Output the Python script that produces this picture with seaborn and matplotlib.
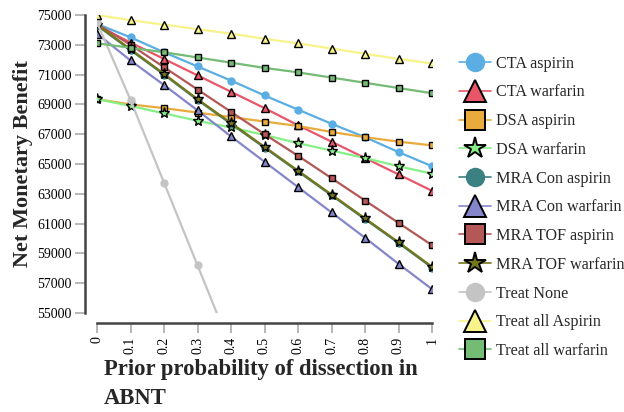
import matplotlib
matplotlib.use("Agg")
import matplotlib.pyplot as plt
import seaborn as sns
import numpy as np
import pandas as pd

prob = [0, 0.1, 0.2, 0.3, 0.4, 0.5, 0.6, 0.7, 0.8, 0.9, 1.0]
xtick_labels = ["0", "0.1", "0.2", "0.3", "0.4", "0.5", "0.6", "0.7", "0.8", "0.9", "1"]
yticks = [55000, 57000, 59000, 61000, 63000, 65000, 67000, 69000, 71000, 73000, 75000]

cta_aspirin = [74400, 73500, 72500, 71550, 70600, 69600, 68650, 67700, 66800, 65800, 64850]
cta_warfarin = [74300, 73150, 72050, 70950, 69850, 68750, 67600, 66500, 65400, 64300, 63200]
dsa_aspirin = [69350, 69000, 68750, 68450, 68150, 67850, 67550, 67150, 66800, 66500, 66250]
dsa_warfarin = [69350, 68900, 68400, 67900, 67450, 66950, 66400, 65900, 65400, 64850, 64350]
mra_con_aspirin = [74300, 72650, 71000, 69300, 67700, 66100, 64500, 62900, 61300, 59700, 58050]
mra_con_warfarin = [73750, 71950, 70300, 68600, 66850, 65150, 63450, 61750, 60050, 58300, 56600]
mra_tof_aspirin = [74400, 73000, 71500, 70000, 68500, 67000, 65550, 64050, 62550, 61050, 59550]
mra_tof_warfarin = [74350, 72700, 71050, 69350, 67750, 66150, 64550, 62950, 61350, 59750, 58100]
treat_none = [74500, 69300, 63750, 58200, 52650, 47100, 41550, 36000, 30450, 24900, 19350]
treat_all_aspirin = [75000, 74650, 74350, 74050, 73750, 73400, 73100, 72750, 72400, 72050, 71750]
treat_all_warfarin = [73100, 72800, 72500, 72150, 71800, 71450, 71150, 70800, 70450, 70100, 69750]

series_names = ["CTA aspirin", "CTA warfarin", "DSA aspirin", "DSA warfarin",
                "MRA Con aspirin", "MRA Con warfarin", "MRA TOF aspirin",
                "MRA TOF warfarin", "Treat None", "Treat all Aspirin", "Treat all warfarin"]
series_values = [cta_aspirin, cta_warfarin, dsa_aspirin, dsa_warfarin, mra_con_aspirin,
                 mra_con_warfarin, mra_tof_aspirin, mra_tof_warfarin, treat_none,
                 treat_all_aspirin, treat_all_warfarin]

colors = {
    "CTA aspirin": "#5aaee3",
    "CTA warfarin": "#e9566a",
    "DSA aspirin": "#e9ab3c",
    "DSA warfarin": "#86ef86",
    "MRA Con aspirin": "#3b8181",
    "MRA Con warfarin": "#8585cc",
    "MRA TOF aspirin": "#b55757",
    "MRA TOF warfarin": "#76761a",
    "Treat None": "#c4c4c4",
    "Treat all Aspirin": "#f7f38a",
    "Treat all warfarin": "#74bb74",
}
markers = {
    "CTA aspirin": "o", "CTA warfarin": "^", "DSA aspirin": "s", "DSA warfarin": "*",
    "MRA Con aspirin": "o", "MRA Con warfarin": "^", "MRA TOF aspirin": "s",
    "MRA TOF warfarin": "*", "Treat None": "o", "Treat all Aspirin": "^",
    "Treat all warfarin": "s",
}
edged = {"CTA warfarin", "DSA aspirin", "DSA warfarin", "MRA Con warfarin",
         "MRA TOF aspirin", "MRA TOF warfarin", "Treat all Aspirin", "Treat all warfarin"}

rows = []
for name, vals in zip(series_names, series_values):
    for p, v in zip(prob, vals):
        rows.append({"prob": p, "nmb": v, "strategy": name})
df = pd.DataFrame(rows)

sns.set_style("ticks")
plt.rcParams["font.family"] = ["Liberation Serif", "DejaVu Serif"]

fig = plt.figure(figsize=(6.24, 4.12), dpi=100)
ax = fig.add_axes([97/624, 1-313/412, 335/624, 298/412])

for name in series_names:
    sub = df[df["strategy"] == name]
    m = markers[name]
    ms = {"o": 6, "^": 6, "s": 4, "*": 8}[m]
    sns.lineplot(data=sub, x="prob", y="nmb", ax=ax, color=colors[name], lw=1.6,
                 marker=m, markersize=ms,
                 markeredgecolor="black" if name in edged else colors[name],
                 markeredgewidth=1.0 if name in edged else 0,
                 label=name, zorder=3)

ax.set_xlim(0, 1)
ax.set_ylim(55000, 75000)
ax.set_xticks(prob)
ax.set_xticklabels(xtick_labels, fontsize=10.5)
ax.set_yticks(yticks)
ax.set_yticklabels([str(t) for t in yticks], fontsize=10.5)

sns.despine(ax=ax, offset={"left": 9, "bottom": 7})
for sp in ["left", "bottom"]:
    ax.spines[sp].set_color("#444444")
    ax.spines[sp].set_linewidth(1.8)
ax.tick_params(axis="both", color="#aaaaaa", length=7, width=1.2, labelcolor="black", pad=2)
ax.tick_params(axis="x", labelrotation=90, pad=3)

ax.set_ylabel("Net Monetary Benefit", fontsize=16, fontweight="bold")
ax.yaxis.set_label_coords(-0.19, 0.5)
ax.set_xlabel("Prior probability of dissection in\nABNT", fontsize=16.3,
              fontweight="bold", ha="left", multialignment="left", linespacing=1.5)
ax.xaxis.set_label_coords(0.02, -0.155)

handles, labels = ax.get_legend_handles_labels()
leg = ax.legend(handles, labels, loc="upper left", bbox_to_anchor=(1.06, 0.885),
                borderaxespad=0, frameon=False, fontsize=11.6, markerscale=2.0,
                handlelength=2.0, labelspacing=0.79, handletextpad=0.3)
for h in leg.legend_handles:
    lab = h.get_label()
    if lab in edged:
        h.set_markeredgecolor("black")
    h.set_markersize(14 if markers[lab] in ("s", "o") else 16)
    h.set_markeredgewidth(1.4 if lab in edged else 0)
    h.set_linewidth(1.2)

fig.savefig("out.png", dpi=100)
